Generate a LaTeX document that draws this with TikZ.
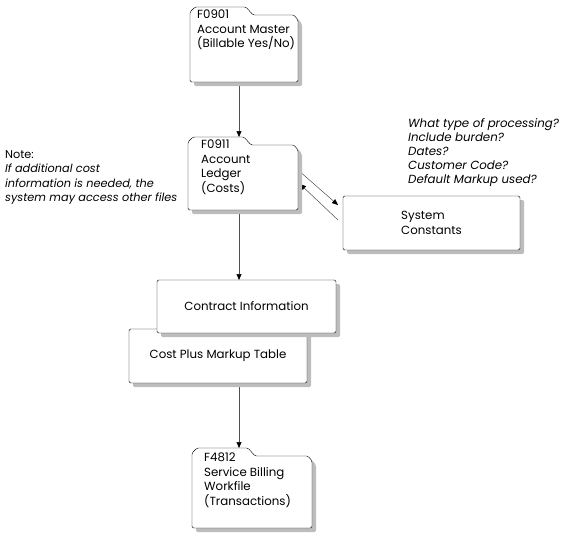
\documentclass[tikz,border=0pt]{standalone}
\usepackage{fontspec}
\setmainfont{Poppins}
\usetikzlibrary{arrows.meta}

\definecolor{shadowgray}{HTML}{BDBDBD}
\definecolor{flowgray}{HTML}{505050}

% folder outline on a frame node, moved by #2 right and down
\newcommand{\folderpath}[2]{%
  ([shift={(#2,#2)}]#1.south west) -- ([shift={(#2,5+#2)}]#1.north west) --
  ([shift={(5+#2,#2)}]#1.north west) -- ([shift={(56+#2,#2)}]#1.north west) --
  ([shift={(63+#2,8+#2)}]#1.north west) -- ([shift={(-4+#2,8+#2)}]#1.north east) --
  ([shift={(#2,13+#2)}]#1.north east) -- ([shift={(#2,#2)}]#1.south east) -- cycle}
% plain box outline on a frame node
\newcommand{\boxpath}[2]{([shift={(#2,#2)}]#1.south west) rectangle ([shift={(#2,#2)}]#1.north east)}

\begin{document}
\begin{tikzpicture}[
  x=1pt, y=-1pt,
  font=\fontsize{11.8}{14.5}\selectfont,
  frame/.style={inner sep=0pt, outer sep=0pt},
  shade/.style={fill=shadowgray, rounded corners=1.5pt},
  outline/.style={draw, fill=white, rounded corners=1.5pt},
  txt/.style={inner sep=0pt, anchor=north west, align=left},
  flow/.style={draw=flowgray, -{Triangle[length=6pt,width=5pt,color=black]}, line width=0.5pt}
]
\useasboundingbox (0,0) rectangle (564,538);

% frames
\node [frame, minimum width=108, minimum height=75] (f0901) at (244,44.5) {};
\node [frame, minimum width=110, minimum height=73] (f0911) at (243,173.5) {};
\node [frame, minimum width=120, minimum height=80] (f4812) at (252,488) {};
\node [frame, minimum width=178, minimum height=54] (costplus) at (218,356) {};
\node [frame, minimum width=179, minimum height=53] (contract) at (246.5,306.5) {};
\node [frame, minimum width=177, minimum height=54] (sysconst) at (431.5,223) {};
\coordinate (spine) at (239,0);

% connectors
\draw [flow] (f0901.south -| spine) -- (f0911.north -| spine);
\draw [flow] (f0911.south -| spine) -- (contract.north -| spine);
\draw [flow] ([shift={(0,4)}]costplus.south -| spine) -- (f4812.north -| spine);
\draw [flow] ([shift={(0,33)}]f0911.north east) -- ([shift={(-5,-18)}]sysconst.west);
\draw [flow] ([shift={(-5,-3)}]sysconst.west) -- ([shift={(2,47)}]f0911.north east);

% shadows and outlines
\path [shade] \folderpath{f0901}{4};
\path [outline] \folderpath{f0901}{0};
\path [shade] \folderpath{f0911}{4};
\path [outline] \folderpath{f0911}{0};
\path [shade] \folderpath{f4812}{4};
\path [outline] \folderpath{f4812}{0};
\path [shade] \boxpath{sysconst}{4};
\path [outline] \boxpath{sysconst}{0};
\path [shade] \boxpath{costplus}{4};
\path [outline] \boxpath{costplus}{0};
\path [shade] \boxpath{contract}{4};
\path [outline] \boxpath{contract}{0};

% labels
\node [txt] (f0901t) at (197,10) {F0901\\Account Master\\(Billable Yes/No)};
\node [txt] (f0911t) at (201,140) {F0911\\Account\\Ledger\\(Costs)};
\node [txt] (f4812t) at (204,453) {F4812\\Service Billing\\Workfile\\(Transactions)};
\node (contractt) at (contract) {Contract Information};
\node (costplust) at (costplus) {Cost Plus Markup Table};
\node [align=left] (sysconstt) at (sysconst) {System\\Constants};

% notes
\node [txt, font=\fontsize{11.3}{14.5}\selectfont] (note) at (5,150) {Note:\\\itshape If additional cost\\\itshape information is needed, the\\\itshape system may access other files};
\node [txt, font=\fontsize{11.8}{14}\selectfont\itshape] (questions) at (408,118)
  {What type of processing?\\Include burden?\\Dates?\\Customer Code?\\Default Markup used?};

\end{tikzpicture}
\end{document}
